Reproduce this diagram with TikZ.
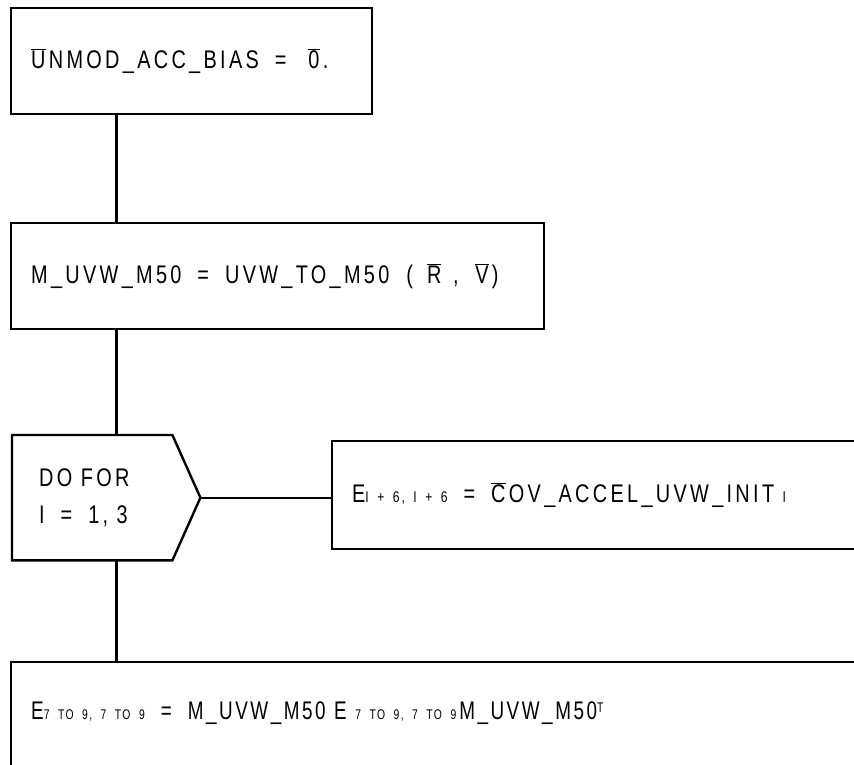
\documentclass[tikz,border=0pt]{standalone}
\usepackage{fontspec}
\newfontfamily\flowfont{Liberation Sans}[FakeStretch=0.78,LetterSpace=13]
\newfontfamily\flownarrow{Liberation Sans}[FakeStretch=0.74,LetterSpace=10]
\usetikzlibrary{positioning,calc}
\newcommand\ovr[1]{$\overline{\hbox{#1}}$\kern0.13em\relax}
\newcommand\eqgap{\hspace{16pt}}
\newcommand\lowidx[1]{{\fontsize{15.5}{18}\selectfont #1}}
\newcommand\smallidx[1]{{\fontsize{14}{16}\selectfont #1}}
\newcommand\highidx[1]{\raisebox{7pt}{\fontsize{14}{16}\selectfont #1}}
\tikzset{
  stepbox/.style={draw, line width=2.4pt, anchor=north west, align=left, inner xsep=20pt, inner ysep=0pt,
                  font=\flowfont\fontsize{25.5}{37}\selectfont, minimum height=#1},
  stepbox/.default=106pt,
  loopbox/.style={stepbox=#1, draw=none, inner xsep=26pt},
  link/.style={line width=2.4pt},
}

\begin{document}
\begin{tikzpicture}[x=1pt, y=-1pt]
  \useasboundingbox (0,0) rectangle (854,765);
  % --- steps
  \node[stepbox, text width=321pt] (bias) at (10,7) {\ovr{U}NMOD\_ACC\_BIAS\eqgap=\eqgap\hspace{6pt}\ovr{0}.};
  \node[stepbox, text width=493pt] (rot) at (10,222)
    {M\_UVW\_M50\eqgap=\eqgap UVW\_TO\_M50 \ (\hspace{14pt}\ovr{R} , \hspace{8pt}\ovr{V})};
  \node[loopbox=123pt, text width=106pt] (loop) at (12,435) {DO FOR\\I\eqgap=\eqgap1, 3};
  \draw[link] (loop.north west) -- (loop.north east) -- ($(loop.east)+(28,0)$) coordinate (tip)
    -- (loop.south east) -- (loop.south west) -- cycle;
  \node[stepbox=108pt, text width=500pt] (covinit) at (331,440)
    {E\lowidx{I + 6, I + 6}\eqgap=\eqgap\ovr{C}OV\_ACCEL\_UVW\_INIT \lowidx{I}};
  \node[stepbox=130pt, text width=820pt, text height=18pt, text depth=33pt,
        font=\flownarrow\fontsize{25.5}{37}\selectfont] (cov) at (10,661)
    {E\smallidx{7 TO 9, 7 TO 9}\eqgap=\eqgap M\_UVW\_M50 E \smallidx{7 TO 9, 7 TO 9}\hspace{3pt}M\_UVW\_M50\highidx{T}};

  % --- flow
  \coordinate (spine) at (116.5,0);
  \draw[link] (bias.south -| spine) -- (rot.north -| spine);
  \draw[link] (rot.south -| spine) -- (loop.north -| spine);
  \draw[link] (loop.south -| spine) -- (cov.north -| spine);
  \draw[link] (tip) -- (tip -| covinit.west);
\end{tikzpicture}
\end{document}
